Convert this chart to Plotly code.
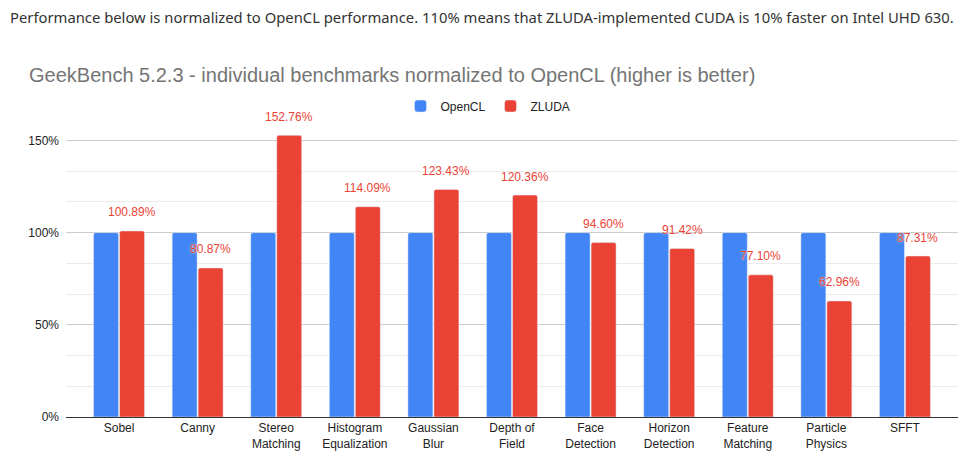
import plotly.graph_objects as go

categories = ["Sobel", "Canny", "Stereo<br>Matching", "Histogram<br>Equalization", "Gaussian<br>Blur",
              "Depth of<br>Field", "Face<br>Detection", "Horizon<br>Detection", "Feature<br>Matching",
              "Particle<br>Physics", "SFFT"]
opencl = [1.0, 1.0, 1.0, 1.0, 1.0, 1.0, 1.0, 1.0, 1.0, 1.0, 1.0]
zluda = [1.0089, 0.8087, 1.5276, 1.1409, 1.2343, 1.2036, 0.9460, 0.9142, 0.7710, 0.6296, 0.8731]
y_ticks = [0, 0.5, 1.0, 1.5]
y_tick_labels = ["0%", "50%", "100%", "150%"]

BLUE = "#4285F4"
RED = "#EA4335"
FONT = "Liberation Sans, Arial, sans-serif"

# page body has an 8px margin, so the figure is drawn offset by (8, 8)
OFF = 8
W, H = 974 - OFF, 459 - OFF
ML, MR, MT, MB = 66 - OFF, 16, 122 - OFF, 42
PW, PH = W - ML - MR, H - MT - MB


def px_to_paper(px, py):
    # px, py are window pixel positions
    return (px - OFF - ML) / PW, (H - MB - (py - OFF)) / PH


fig = go.Figure()
fig.add_trace(go.Bar(name="OpenCL", x=categories, y=opencl, marker=dict(color=BLUE, cornerradius=2),
                     hoverinfo="skip"))
fig.add_trace(go.Bar(name="ZLUDA", x=categories, y=zluda, marker=dict(color=RED, cornerradius=2),
                     hoverinfo="skip"))

for c, v in zip(categories, zluda):
    fig.add_annotation(x=c, y=v, xref="x", yref="y", text=f"{v*100:.2f}%", showarrow=False,
                       xshift=13, yshift=18.5, yanchor="middle", xanchor="center",
                       font=dict(family=FONT, size=12, color=RED, shadow="0px 0px 2px white"))

tx, ty = px_to_paper(27, 75)
fig.add_annotation(xref="paper", yref="paper", x=tx, y=ty, xanchor="left", yanchor="middle",
                   text="GeekBench 5.2.3 - individual benchmarks normalized to OpenCL (higher is better)",
                   showarrow=False, font=dict(family=FONT, size=20, color="#757575"))

hx, hy = px_to_paper(8, 17)
fig.add_annotation(xref="paper", yref="paper", x=hx, y=hy, xanchor="left", yanchor="middle",
                   text="Performance below is normalized to OpenCL performance. 110% means that ZLUDA-implemented CUDA is 10% faster on Intel UHD 630.",
                   showarrow=False, font=dict(family="Noto Sans, Open Sans, sans-serif", size=14.8, color="#333333"))

fig.update_layout(
    width=W, height=H,
    margin=dict(l=ML, r=MR, t=MT, b=MB, autoexpand=False),
    paper_bgcolor="white", plot_bgcolor="white",
    barmode="group", bargap=0.338, bargroupgap=0.04,
    legend=dict(orientation="h", xref="container", yref="container", x=480 / W, xanchor="center",
                y=1 - (106 - OFF) / H, yanchor="middle",
                font=dict(family=FONT, size=12, color="#222222"), itemwidth=30, traceorder="normal"),
    font=dict(family=FONT, size=12, color="#222222"),
    showlegend=True,
)
fig.update_xaxes(range=[-0.675, 10.675], showgrid=False, showline=True, linecolor="#333333", linewidth=1,
                 tickfont=dict(family=FONT, size=12, color="#222222"), ticks="", fixedrange=True,
                 automargin=False)
fig.update_yaxes(range=[0, 1.6], tickvals=y_ticks, ticktext=y_tick_labels, showgrid=True, gridcolor="#cccccc",
                 gridwidth=1, zeroline=False, showline=False, ticklabelstandoff=6, automargin=False,
                 tickfont=dict(family=FONT, size=12, color="#222222"),
                 minor=dict(dtick=1/6, tick0=0, showgrid=True, gridcolor="#ebebeb", gridwidth=1))

fig.write_html("out.html")
